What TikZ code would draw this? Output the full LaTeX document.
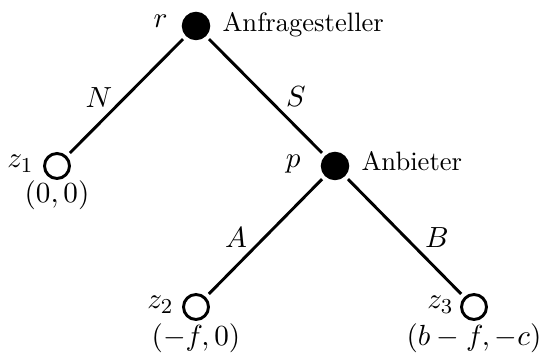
\documentclass[tikz,border=0pt]{standalone}
\begin{document}
\begin{tikzpicture}[x=0.376pt,y=-0.376pt,
  decision/.style={circle,fill=black,draw=black,line width=1.1pt,minimum size=9.6pt,inner sep=0pt},
  terminal/.style={circle,fill=white,draw=black,line width=1.1pt,minimum size=9.4pt,inner sep=0pt},
  edge/.style={line width=1.1pt,shorten <=1.6pt,shorten >=1.6pt},
  lbl/.style={inner sep=0pt,anchor=base},
  mlbl/.style={inner sep=0pt,anchor=base,font=\fontsize{11}{13}\selectfont}]
\useasboundingbox (0,0) rectangle (539,353);
\node[decision] (r) at (196,26) {};
\node[terminal] (z1) at (57,166) {};
\node[decision] (p) at (335,166) {};
\node[terminal] (z2) at (196,307) {};
\node[terminal] (z3) at (474,307) {};
\draw[edge] (r) -- (z1);
\draw[edge] (r) -- (p);
\draw[edge] (p) -- (z2);
\draw[edge] (p) -- (z3);
\node[mlbl,anchor=base east] (lr) at (168,28) {$r$};
\node[lbl,anchor=base west] (lan) at (222,32) {Anfragesteller};
\node[mlbl] (lN) at (99,108) {$N$};
\node[mlbl] (lS) at (296,107) {$S$};
\node[mlbl,anchor=base east] (lz1) at (34,168) {$z_1$};
\node[mlbl] (o1) at (57,203) {$(0,0)$};
\node[mlbl,anchor=base east] (lp) at (301,168) {$p$};
\node[lbl,anchor=base west] (lab) at (361,171) {Anbieter};
\node[mlbl] (lA) at (236,248) {$A$};
\node[mlbl] (lB) at (437,248) {$B$};
\node[mlbl,anchor=base east] (lz2) at (174,309) {$z_2$};
\node[mlbl] (o2) at (196,346) {$(-f,0)$};
\node[mlbl,anchor=base east] (lz3) at (454,309) {$z_3$};
\node[mlbl] (o3) at (474,346) {$(b-f,-c)$};
\end{tikzpicture}
\end{document}
